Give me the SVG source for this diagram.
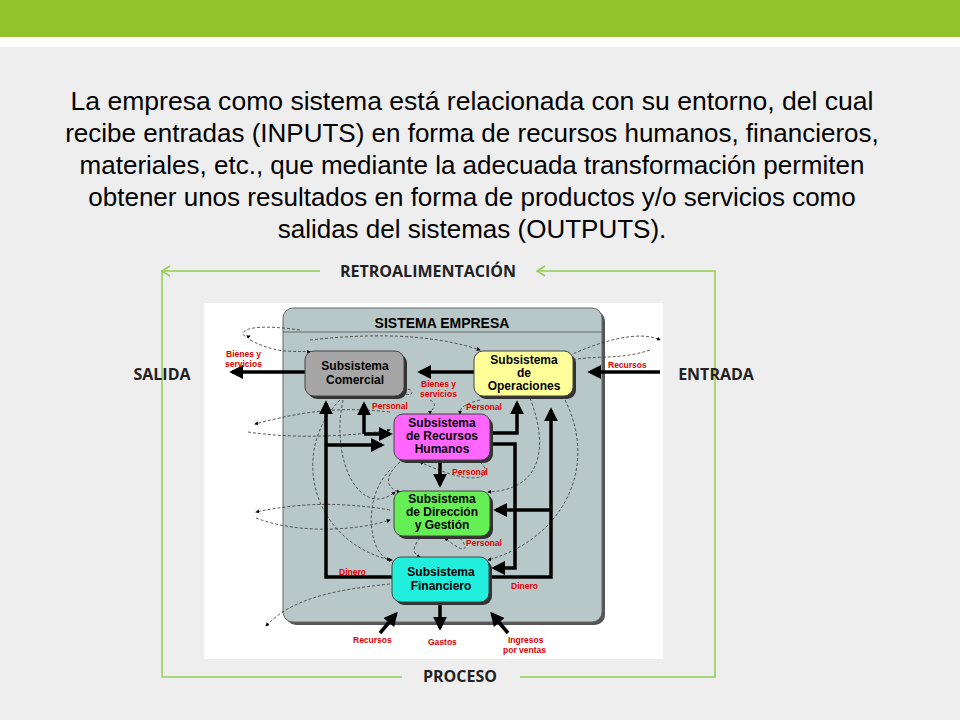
<svg xmlns="http://www.w3.org/2000/svg" width="960" height="720" viewBox="0 0 960 720">
<defs>
<marker id="ah" viewBox="0 0 10 10" refX="8" refY="5" markerWidth="4" markerHeight="4" orient="auto"><path d="M0,0L10,5L0,10z" fill="#000"/></marker>
<marker id="ad" viewBox="0 0 10 10" refX="8" refY="5" markerWidth="5" markerHeight="5" orient="auto"><path d="M0,0L10,5L0,10z" fill="#000"/></marker>
</defs>
<style>
.t{font-family:"Liberation Sans",Arial,sans-serif;fill:#000}
.b{font-family:"Liberation Sans",Arial,sans-serif;font-weight:bold;font-size:12px;text-anchor:middle;fill:#000}
.r{font-family:"Liberation Sans",Arial,sans-serif;font-weight:bold;font-size:8.5px;fill:#e00000}
.g{font-family:"Open Sans","Liberation Sans",sans-serif;font-weight:bold;font-size:16px;fill:#222}
.th{stroke:#000;stroke-width:3.5;fill:none;marker-end:url(#ah)}
.ds{stroke:#333;stroke-width:0.8;stroke-dasharray:3,2;fill:none;marker-end:url(#ad)}
.gl{stroke:#92d050;stroke-width:1.5;fill:none}
.box{stroke:#444;stroke-width:1}
</style>
<rect width="960" height="720" fill="#eeeeee"/>
<rect width="960" height="37" fill="#92c32a"/>
<rect y="37" width="960" height="10" fill="#fff"/>
<g class="t" font-size="26" text-anchor="middle">
<text x="472" y="110" textLength="803" lengthAdjust="spacingAndGlyphs">La empresa como sistema está relacionada con su entorno, del cual</text>
<text x="472" y="142">recibe entradas (INPUTS) en forma de recursos humanos, financieros,</text>
<text x="472" y="174">materiales, etc., que mediante la adecuada transformación permiten</text>
<text x="472" y="206">obtener unos resultados en forma de productos y/o servicios como</text>
<text x="472" y="238">salidas del sistemas (OUTPUTS).</text>
</g>
<g id="feedback">
<path class="gl" d="M320,271H162V677H402"/>
<path class="gl" d="M537,271H715V677H520"/>
<path class="gl" d="M170,266L162,271L170,276"/>
<path class="gl" d="M545,266L537,271L545,276"/>
<text class="g" x="428" y="277" text-anchor="middle">RETROALIMENTACIÓN</text>
<text class="g" x="460" y="682" text-anchor="middle">PROCESO</text>
<text class="g" x="162" y="380" text-anchor="middle">SALIDA</text>
<text class="g" x="716" y="380" text-anchor="middle">ENTRADA</text>
</g>
<rect x="204" y="303" width="459" height="356" fill="#fff"/>
<g id="panel">
<rect x="286" y="311" width="319" height="314" rx="10" fill="#555"/>
<rect x="283" y="308" width="319" height="314" rx="10" fill="#b8c8c8" stroke="#666"/>
<line x1="283" y1="332" x2="602" y2="332" stroke="#666"/>
<text class="t" x="442" y="328" font-size="14" font-weight="bold" text-anchor="middle">SISTEMA EMPRESA</text>
</g>
<g id="connectors">
<path class="ds" d="M300,330C230,320 240,340 250,336"/>
<path class="ds" d="M250,340C280,355 290,350 310,352"/>
<path class="ds" d="M310,340C400,330 450,340 480,350"/>
<path class="ds" d="M560,360C600,340 640,330 660,340"/>
<path class="ds" d="M650,350C620,360 600,355 570,360"/>
<path class="ds" d="M390,412C330,405 290,415 255,424"/>
<path class="ds" d="M248,432C300,440 360,435 390,430"/>
<path class="ds" d="M390,510C330,500 290,505 256,512"/>
<path class="ds" d="M256,518C300,535 360,530 390,520"/>
<path class="ds" d="M390,584C330,590 290,600 266,626"/>
<path class="ds" d="M340,400C290,450 310,540 390,560"/>
<path class="ds" d="M343,400C330,460 360,520 395,492"/>
<path class="ds" d="M530,398C550,450 540,490 488,492"/>
<path class="ds" d="M565,400C600,470 560,540 488,560"/>
<path class="ds" d="M400,395C410,380 420,400 402,393"/>
<path class="ds" d="M430,400C440,405 430,410 430,414"/>
<path class="ds" d="M480,400C460,405 460,410 460,414"/>
<path class="ds" d="M400,462C380,480 390,490 400,492"/>
<path class="ds" d="M480,462C495,475 480,490 420,462"/>
<path class="ds" d="M420,538C410,550 415,555 420,557"/>
<path class="ds" d="M460,538C470,550 465,555 445,538"/>
<path class="ds" d="M390,470C360,500 370,560 392,560"/>
<path class="th" d="M474,372H420"/>
<path class="th" d="M305,372H232"/>
<path class="th" d="M660,372H590"/>
<path class="th" d="M364,434V404"/>
<path class="th" d="M364,434H390"/>
<path class="th" d="M490,433H517V403"/>
<path class="th" d="M440,460V485"/>
<path class="th" d="M490,444H515V568H494"/>
<path class="th" d="M392,577H326V403"/>
<path class="th" d="M326,445H382"/>
<path class="th" d="M489,577H551V410"/>
<path class="th" d="M551,510H496"/>
<path class="th" d="M440,602V628"/>
<path class="th" d="M380,633L396,614"/>
<path class="th" d="M508,633L492,614"/>
</g>
<g id="comercial"><rect x="308" y="354" width="99" height="45" rx="9" fill="#333"/><rect class="box" x="305" y="351" width="99" height="45" rx="9" fill="#a6a6a6"/><text class="b" x="355" y="370">Subsistema</text><text class="b" x="355" y="384">Comercial</text></g>
<g id="operaciones"><rect x="477" y="354" width="99" height="45" rx="9" fill="#333"/><rect class="box" x="474" y="351" width="99" height="45" rx="9" fill="#ffff99"/><text class="b" x="524" y="364">Subsistema</text><text class="b" x="524" y="377">de</text><text class="b" x="524" y="390">Operaciones</text></g>
<g id="rrhh"><rect x="397" y="417" width="96" height="46" rx="9" fill="#333"/><rect class="box" x="394" y="414" width="96" height="46" rx="9" fill="#ff66ff"/><text class="b" x="442" y="427">Subsistema</text><text class="b" x="442" y="440">de Recursos</text><text class="b" x="442" y="453">Humanos</text></g>
<g id="direccion"><rect x="397" y="494" width="96" height="45" rx="9" fill="#333"/><rect class="box" x="394" y="491" width="96" height="45" rx="9" fill="#66ee55"/><text class="b" x="442" y="503">Subsistema</text><text class="b" x="442" y="516">de Dirección</text><text class="b" x="442" y="529">y Gestión</text></g>
<g id="financiero"><rect x="395" y="560" width="97" height="45" rx="9" fill="#333"/><rect class="box" x="392" y="557" width="97" height="45" rx="9" fill="#22eedd"/><text class="b" x="441" y="576">Subsistema</text><text class="b" x="441" y="590">Financiero</text></g>
<g id="labels">
<text class="r" x="226" y="357">Bienes y</text><text class="r" x="225" y="367">servicios</text>
<text class="r" x="608" y="368">Recursos</text>
<text class="r" x="421" y="387">Bienes y</text><text class="r" x="420" y="397">servicios</text>
<text class="r" x="372" y="409">Personal</text>
<text class="r" x="466" y="410">Personal</text>
<text class="r" x="452" y="475">Personal</text>
<text class="r" x="466" y="546">Personal</text>
<text class="r" x="339" y="575">Dinero</text>
<text class="r" x="511" y="589">Dinero</text>
<text class="r" x="353" y="643">Recursos</text>
<text class="r" x="428" y="645">Gastos</text>
<text class="r" x="508" y="643">Ingresos</text><text class="r" x="503" y="653">por ventas</text>
</g>
</svg>
